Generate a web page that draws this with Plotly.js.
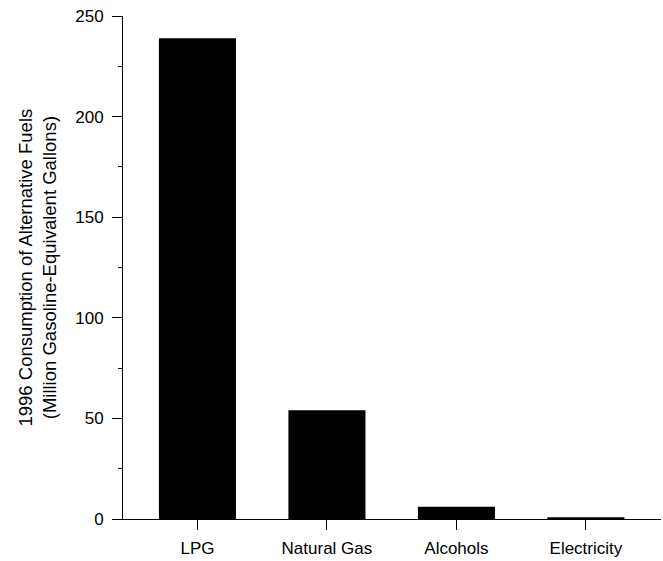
<!DOCTYPE html>
<html>
<head>
<meta charset="utf-8">
<script src="https://cdn.plot.ly/plotly-3.0.1.min.js"></script>
<style>html,body{margin:0;padding:0;background:#fff;}#chart{width:663px;height:561px;}</style>
</head>
<body>
<div id="chart"></div>
<script>
const categories = ["LPG", "Natural Gas", "Alcohols", "Electricity"];
const consumption = [239, 54, 6.1, 0.9];
const yTickValues = [0, 50, 100, 150, 200, 250];
const yTitle = "1996 Consumption of Alternative Fuels<br>(Million Gasoline-Equivalent Gallons)";

const trace = {
  type: "bar",
  x: categories,
  y: consumption,
  marker: {color: "#000000", line: {width: 0}},
  hoverinfo: "x+y"
};

const layout = {
  width: 663,
  height: 561,
  margin: {l: 123, r: 2, t: 16, b: 42, pad: 0},
  paper_bgcolor: "#ffffff",
  plot_bgcolor: "#ffffff",
  bargap: 0.405,
  showlegend: false,
  font: {family: "Liberation Sans, Arial, sans-serif", size: 17, color: "#000000"},
  xaxis: {
    type: "category",
    range: [-0.575, 3.58],
    showgrid: false,
    zeroline: false,
    showline: true,
    linecolor: "#000000",
    linewidth: 1,
    ticks: "outside",
    ticklen: 10,
    tickwidth: 1,
    tickcolor: "#000000",
    ticklabelstandoff: 4,
    tickfont: {size: 17}
  },
  yaxis: {
    range: [0, 250],
    tickvals: yTickValues,
    showgrid: false,
    zeroline: false,
    showline: true,
    linecolor: "#000000",
    linewidth: 1,
    ticks: "outside",
    ticklen: 10,
    tickwidth: 1,
    tickcolor: "#000000",
    ticklabelstandoff: 5,
    tickfont: {size: 17},
    minor: {dtick: 25, ticks: "outside", ticklen: 4, tickcolor: "#000000", tickwidth: 1, showgrid: false}
  },
  annotations: [{
    text: yTitle,
    xref: "paper", yref: "paper",
    x: 0, y: 0.5,
    xshift: -86,
    xanchor: "center", yanchor: "middle",
    textangle: -90,
    showarrow: false,
    font: {size: 18.5, color: "#000000"}
  }]
};

Plotly.newPlot("chart", [trace], layout, {displayModeBar: false, staticPlot: true});
</script>
</body>
</html>
